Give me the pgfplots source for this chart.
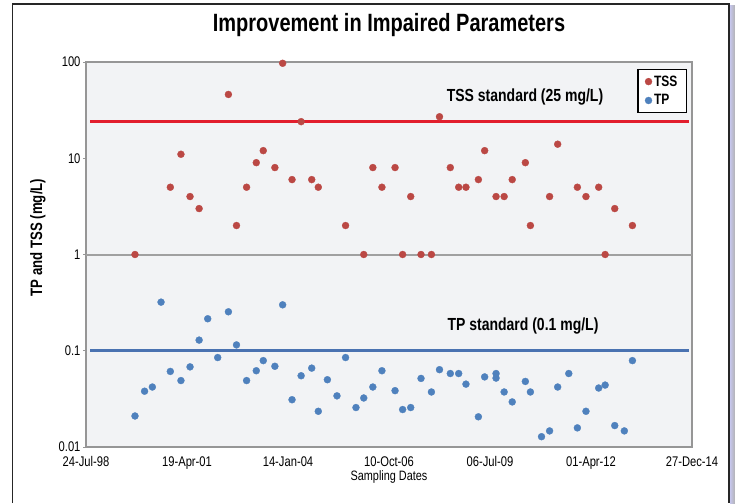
\documentclass[border=0pt]{standalone}
\usepackage{fontspec}
\setmainfont[FakeStretch=0.8]{Liberation Sans}
\usepackage{pgfplots}
\pgfplotsset{compat=1.18}
\definecolor{tssdot}{RGB}{187,72,68}
\definecolor{tpdot}{RGB}{79,129,189}
\definecolor{redline}{RGB}{226,30,45}
\definecolor{blueline}{RGB}{74,114,177}
\definecolor{grayline}{RGB}{160,160,160}
\definecolor{bggray}{RGB}{242,243,245}
\definecolor{framegray}{RGB}{150,150,150}
\begin{document}
\begin{tikzpicture}[x=1pt,y=1pt]
\path[use as bounding box] (0,0) rectangle (735,503);
\begin{axis}[
  at={(86pt,56pt)}, anchor=south west,
  scale only axis, width=606pt, height=385pt,
  xmin=0, xmax=6, ymode=log, ymin=0.01, ymax=100,
  clip=false,
  axis background/.style={fill=bggray},
  axis line style={draw=framegray, line width=1.2pt},
  xtick={0,1,2,3,4,5,6},
  xticklabels={24-Jul-98,19-Apr-01,14-Jan-04,10-Oct-06,06-Jul-09,01-Apr-12,27-Dec-14},
  ytick={0.01,0.1,1,10,100},
  yticklabels={0.01,0.1,1,10,100},
  yminorticks=false,
  xtick style={draw=none},
  ytick style={draw=framegray, line width=0.8pt},
  tick align=outside, major tick length=3pt,
  xtick pos=bottom, ytick pos=left,
  /pgf/number format/assume math mode=true,
  tick label style={font=\fontsize{14}{15}\selectfont},
  xticklabel style={yshift=-3pt},
  yticklabel style={xshift=1pt},
  legend style={at={(0.9917,0.9818)}, anchor=north east, draw=black, line width=1.2pt,
    fill=white, font=\fontsize{15}{17}\selectfont\bfseries, inner xsep=7pt, inner ysep=4pt,
    row sep=3pt},
  legend cell align=left,
  legend image code/.code={\path[#1] plot coordinates {(0.3em,0pt)};},
]
\addplot[grayline, line width=2pt, forget plot] coordinates {(0,1) (6,1)};
\addplot[redline, line width=2.6pt, forget plot] coordinates {(0.04,24) (5.97,24)};
\addplot[blueline, line width=2.8pt, forget plot] coordinates {(0.04,0.1) (5.97,0.1)};
\addplot[only marks, mark=*, mark size=3.5pt, mark options={draw=tssdot, fill=tssdot, line width=0.3pt}] coordinates {
(0.485,1) (0.835,5) (0.94,11) (1.03,4) (1.12,3) (1.41,46) (1.49,2) (1.59,5) (1.686,9) (1.755,12)
(1.87,8) (1.947,97) (2.04,6) (2.13,24) (2.235,6) (2.30,5) (2.57,2) (2.75,1) (2.84,8) (2.93,5)
(3.06,8) (3.135,1) (3.215,4) (3.317,1) (3.42,1) (3.50,27) (3.607,8) (3.69,5) (3.762,5) (3.885,6)
(3.947,12) (4.06,4) (4.14,4) (4.22,6) (4.35,9) (4.40,2) (4.59,4) (4.67,14) (4.865,5) (4.95,4)
(5.076,5) (5.14,1) (5.235,3) (5.41,2)
};
\addlegendentry{TSS}
\addplot[only marks, mark=*, mark size=3.5pt, mark options={draw=tpdot, fill=tpdot, line width=0.3pt}] coordinates {
(0.485,0.021) (0.58,0.038) (0.657,0.042) (0.743,0.32) (0.835,0.061) (0.94,0.049) (1.03,0.068)
(1.12,0.129) (1.205,0.215) (1.304,0.085) (1.41,0.254) (1.49,0.115) (1.59,0.049) (1.686,0.062)
(1.755,0.079) (1.87,0.069) (1.947,0.30) (2.04,0.031) (2.13,0.055) (2.235,0.066) (2.30,0.0235)
(2.39,0.050) (2.485,0.034) (2.57,0.085) (2.673,0.0257) (2.75,0.0323) (2.84,0.042) (2.93,0.062)
(3.06,0.0385) (3.135,0.0245) (3.215,0.0257) (3.317,0.0516) (3.42,0.0373) (3.50,0.0636)
(3.607,0.058) (3.69,0.058) (3.762,0.045) (3.885,0.0206) (3.947,0.0535) (4.06,0.058) (4.06,0.052)
(4.14,0.0373) (4.22,0.0294) (4.35,0.048) (4.40,0.0373) (4.51,0.0128) (4.59,0.0147) (4.67,0.042)
(4.78,0.058) (4.865,0.0158) (4.95,0.0235) (5.076,0.041) (5.14,0.044) (5.235,0.0167) (5.33,0.0147)
(5.41,0.079)
};
\addlegendentry{TP}
\end{axis}
% titles and labels
\node[anchor=base, font=\fontsize{25}{28}\selectfont\bfseries] at (389,471) {Improvement in Impaired Parameters};
\node[rotate=90, font=\fontsize{16.5}{18}\selectfont\bfseries] at (38,265.5) {TP and TSS (mg/L)};
\node[font=\fontsize{13.6}{15}\selectfont] at (389,26) {Sampling Dates};
\node[font=\fontsize{17.5}{20}\selectfont\bfseries] at (525,406.3) {TSS standard (25 mg/L)};
\node[font=\fontsize{17.5}{20}\selectfont\bfseries] at (523,177.3) {TP standard (0.1 mg/L)};
% outer chart frame
\shade[left color=gray!50!blue!30, right color=gray!60] (730,0) rectangle (735,497);
\draw[line width=1.3pt, black!85] (12.7,0) -- (12.7,499) -- (729,499) -- (729,0);
\end{tikzpicture}
\end{document}
